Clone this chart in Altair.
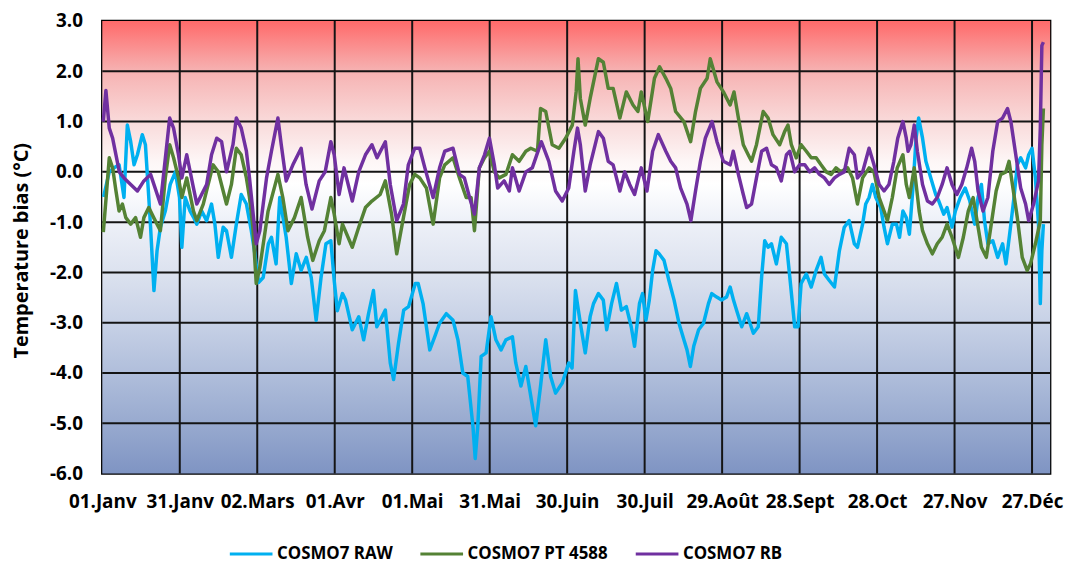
import altair as alt
import pandas as pd

# ---------------- data ----------------
SERIES = ["COSMO7 RAW", "COSMO7 PT 4588", "COSMO7 RB"]
COLORS = ["#00B0F0", "#548235", "#7030A0"]

TICK_DAYS = [0, 30, 60, 90, 120, 150, 180, 210, 240, 270, 300, 330, 360]
TICK_LABELS = ["01.Janv", "31.Janv", "02.Mars", "01.Avr", "01.Mai", "31.Mai", "30.Juin",
               "30.Juil", "29.Août", "28.Sept", "28.Oct", "27.Nov", "27.Déc"]
Y_TICKS = [-6, -5, -4, -3, -2, -1, 0, 1, 2, 3]
X_RANGE = [0, 367]
Y_RANGE = [-6, 3]

raw_day = [0.5, 2.7, 4.6, 6.5, 8.4, 9.7, 11.0, 12.3, 13.6, 15.5, 16.7, 18.0, 18.7, 20.0, 21.2, 22.5,
           24.4, 26.3, 28.3, 29.9, 30.8, 32.1, 34.0, 35.3, 36.6, 38.5, 40.4, 42.3, 43.6, 44.9, 46.8,
           48.1, 50.0, 51.9, 53.8, 55.8, 57.7, 59.0, 60.5, 62.3, 64.3, 65.5, 67.3, 68.7, 71.2, 73.2,
           75.1, 77.0, 79.0, 80.9, 82.8, 84.7, 86.6, 88.5, 89.8, 91.0, 93.0, 94.2, 96.8, 99.3, 101.2,
           103.1, 105.0, 106.3, 107.6, 109.6, 111.5, 112.8, 114.7, 116.7, 118.6, 121.2, 122.3, 124.2,
           126.8, 128.7, 130.6, 133.2, 135.8, 137.7, 139.6, 141.5, 143.5, 144.4, 145.4, 146.7, 148.6,
           150.5, 152.4, 154.4, 156.3, 158.8, 160.1, 162.1, 164.0, 165.9, 167.8, 169.7, 171.7, 173.6,
           175.5, 178.1, 180.6, 181.9, 183.2, 185.1, 187.0, 188.9, 190.2, 192.1, 194.0, 195.3, 197.2,
           199.1, 201.0, 202.9, 204.8, 206.1, 208.0, 209.2, 210.5, 211.8, 213.1, 214.4, 215.6, 217.5,
           219.4, 221.4, 223.3, 225.2, 226.4, 227.7, 229.0, 230.9, 232.8, 234.7, 236.0, 237.9, 239.8,
           241.7, 243.1, 244.4, 245.6, 247.6, 249.5, 250.8, 252.1, 254.0, 255.3, 256.5, 257.8, 259.1,
           261.0, 262.9, 264.9, 266.2, 268.1, 269.4, 270.6, 272.6, 274.5, 276.4, 278.3, 279.6, 281.5,
           283.5, 285.4, 287.3, 289.2, 291.2, 292.4, 294.4, 295.6, 296.9, 298.2, 299.5, 301.4, 302.7,
           304.0, 305.9, 307.5, 308.7, 310.0, 311.3, 312.5, 313.8, 315.1, 316.1, 317.6, 318.9, 320.8,
           322.7, 323.9, 325.8, 327.1, 329.0, 330.3, 332.2, 334.1, 335.9, 337.8, 339.1, 340.4, 341.6,
           342.9, 344.8, 346.7, 348.6, 349.9, 351.8, 353.0, 354.3, 355.6, 357.5, 358.7, 360.0, 361.3,
           362.5, 363.2, 363.8, 364.4]
raw_val = [-0.5, 0.0, 0.08, 0.14, -0.51, 0.93, 0.6, 0.14, 0.34, 0.74, 0.54, -0.51, -1.1, -2.36, -1.57, -1.1,
           -0.78, -0.25, 0.0, -0.51, -1.5, -0.51, -0.78, -0.9, -1.04, -0.78, -0.97, -0.64, -1.04, -1.7, -1.1,
           -1.17, -1.7, -1.04, -0.45, -0.64, -1.17, -1.6, -2.2, -2.1, -1.43, -1.3, -1.83, -0.51, -1.3, -2.22,
           -1.63, -1.96, -1.7, -2.1, -2.95, -2.1, -1.43, -1.37, -2.16, -2.76, -2.42, -2.55, -3.14, -2.88, -3.34,
           -2.82, -2.36, -3.08, -2.95, -2.75, -3.8, -4.13, -3.41, -2.75, -2.68, -2.22, -2.22, -2.62,
           -3.54, -3.28, -3.01, -2.82, -2.95, -3.34, -4.0, -4.07, -5.05, -5.7, -5.05, -3.67, -3.6,
           -2.88, -3.34, -3.54, -3.34, -3.28, -3.8, -4.26, -3.87, -4.46, -5.05, -4.26, -3.34, -4.07,
           -4.4, -4.2, -3.8, -3.9, -2.36, -3.01, -3.6, -2.88, -2.62, -2.42, -2.55, -3.14, -2.62,
           -2.22, -2.75, -2.68, -3.08, -3.47, -2.62, -2.42, -2.95, -2.55, -1.96, -1.57, -1.63, -1.76,
           -2.16, -2.55, -3.01, -3.34, -3.54, -3.87, -3.47, -3.14, -3.01, -2.62, -2.42, -2.49, -2.55,
           -2.49, -2.29, -2.55, -2.75, -3.08, -2.82, -3.01, -3.21, -3.08, -2.09, -1.37, -1.5, -1.43,
           -1.83, -1.3, -1.43, -2.09, -3.08, -3.08, -2.22, -2.03, -2.29, -1.96, -1.7, -2.03, -2.16,
           -2.29, -1.57, -1.1, -0.97, -1.43, -1.5, -1.04, -0.64, -0.51, -0.25, -0.51, -0.71, -1.1,
           -1.43, -1.04, -1.04, -1.3, -0.78, -0.91, -1.24, -0.38, 0.67, 1.07, 0.67, 0.21, -0.12,
           -0.45, -0.58, -0.84, -0.71, -1.1, -0.78, -0.51, -0.32, -0.58, -1.04, -0.51, -0.25, -0.97,
           -1.43, -1.37, -1.7, -1.43, -1.83, -1.04, -0.51, 0.14, 0.28, 0.08, 0.34, 0.47, -0.12,
           -1.04, -2.62, -1.57, -1.04]

pt_day = [0.4, 1.5, 2.7, 4.0, 5.3, 6.5, 7.8, 9.1, 11.0, 12.9, 14.8, 16.1, 18.0, 19.9, 22.5, 24.4, 26.1,
          27.6, 29.5, 30.8, 32.7, 35.3, 36.6, 39.1, 41.0, 42.9, 44.9, 46.8, 48.1, 50.0, 51.9, 53.8, 55.8,
          57.0, 58.3, 59.6, 61.0, 64.2, 68.0, 69.9, 71.9, 74.4, 77.0, 79.5, 81.5, 84.0, 86.0, 88.5, 89.8,
          91.7, 93.0, 96.8, 99.3, 101.9, 104.4, 107.6, 109.6, 112.0, 114.0, 116.6, 119.0, 121.0, 122.9,
          125.5, 128.1, 130.6, 132.6, 135.8, 138.3, 140.9, 142.8, 144.1, 146.0, 148.0, 149.9, 151.8,
          153.7, 156.3, 158.8, 161.4, 164.0, 165.9, 168.5, 169.7, 171.7, 174.2, 176.8, 179.4, 182.0,
          183.5, 184.2, 185.1, 187.0, 188.9, 192.1, 194.0, 195.9, 197.8, 200.4, 202.9, 205.5, 207.4,
          208.7, 211.2, 213.8, 215.8, 218.2, 220.1, 222.0, 225.2, 227.8, 229.7, 231.6, 234.2, 235.4,
          238.0, 240.5, 243.1, 244.6, 246.3, 248.2, 250.1, 251.4, 253.3, 255.9, 257.8, 259.7, 262.3,
          264.2, 265.5, 266.8, 268.7, 270.6, 272.6, 274.5, 276.4, 278.3, 280.3, 282.2, 284.1, 286.0,
          288.6, 290.5, 292.4, 294.4, 296.9, 298.8, 300.8, 302.7, 304.0, 305.9, 307.8, 310.0, 311.3,
          312.5, 314.4, 316.3, 317.6, 319.5, 321.4, 323.3, 325.2, 327.1, 329.0, 331.5, 333.4, 335.3,
          337.2, 338.5, 340.4, 342.3, 344.2, 346.1, 347.9, 349.9, 351.1, 352.4, 354.3, 356.2, 358.1,
          359.4, 361.3, 363.2, 363.8, 364.4]
pt_val = [-1.2, -0.5, 0.28, 0.08, -0.38, -0.78, -0.64, -0.91, -1.04, -0.91, -1.3, -0.91, -0.71, -0.91, -1.17,
          -0.12, 0.54, 0.28, -0.12, -0.51, -0.12, -0.78, -0.97, -0.64, -0.25, 0.14, 0.0, -0.38, -0.64, -0.25,
          0.47, 0.34, -0.12, -0.51, -1.1, -2.22, -1.9, -0.78, -0.05, -0.51, -1.17, -0.91, -0.51, -1.3, -1.76,
          -1.37, -1.17, -0.51, -0.84, -1.43, -1.04, -1.5, -1.1, -0.71, -0.58, -0.45, -0.18, -0.84, -1.63,
          -0.91, -0.25, -0.05, -0.12, -0.32, -1.04, -0.12, 0.14, 0.28, -0.12, -0.51, -0.51, -1.17, 0.08,
          0.28, 0.41, 0.0, -0.12, -0.05, 0.34, 0.21, 0.41, 0.47, 0.41, 1.26, 1.2, 0.54, 0.47, 0.67, 0.93,
          1.6, 2.25, 1.46, 0.93, 1.46, 2.25, 2.18, 1.66, 1.66, 1.07, 1.59, 1.33, 1.2, 1.59, 1.0, 1.86, 2.09,
          1.86, 1.66, 1.2, 1.0, 0.6, 1.2, 1.66, 1.86, 2.25, 1.79, 1.59, 1.33, 1.59, 1.07, 0.54, 0.34,
          0.21, 0.54, 1.2, 1.07, 0.74, 0.54, 0.8, 0.93, 0.54, 0.28, 0.54, 0.41, 0.28, 0.28, 0.14, 0.0,
          -0.05, 0.08, 0.0, 0.08, -0.12, -0.64, -0.12, 0.08, 0.0, -0.51, -0.78, -0.97, -0.51, 0.08, 0.34,
          -0.25, -0.51, 0.08, -0.78, -1.17, -1.43, -1.63, -1.43, -1.3, -1.04, -1.3, -1.7, -1.3, -0.78,
          -0.51, -0.91, -1.5, -1.7, -1.04, -0.38, -0.05, 0.0, 0.21, -0.25, -0.91, -1.7, -1.96, -1.83,
          -1.43, -0.97, 0.54, 1.26]

rb_day = [0.4, 1.4, 2.7, 4.0, 6.6, 8.4, 11.0, 13.6, 16.1, 18.7, 22.5, 26.1, 27.6, 29.5, 30.8, 32.7, 35.3,
          36.6, 40.4, 42.3, 44.3, 46.2, 48.1, 50.6, 51.9, 53.8, 55.8, 57.0, 58.3, 59.6, 61.0, 63.6, 65.5,
          68.0, 69.3, 71.2, 73.8, 77.0, 78.9, 81.2, 84.0, 86.3, 88.5, 89.8, 91.7, 93.6, 96.8, 99.3, 101.9,
          104.4, 106.4, 109.6, 111.5, 114.0, 116.6, 118.5, 121.0, 122.9, 124.9, 128.1, 130.6, 132.6,
          135.8, 138.3, 140.2, 142.2, 144.1, 146.0, 148.0, 149.9, 151.8, 153.1, 155.6, 157.6, 158.8,
          161.4, 164.0, 166.5, 170.0, 172.9, 175.5, 178.1, 180.6, 182.6, 184.0, 185.1, 187.0, 188.9,
          192.1, 194.0, 195.9, 197.8, 200.4, 202.3, 204.2, 206.1, 208.7, 210.9, 213.1, 215.3, 218.2,
          220.1, 222.0, 223.9, 226.4, 227.9, 229.7, 231.6, 233.5, 236.1, 238.0, 240.5, 243.1, 244.3,
          246.3, 248.2, 249.5, 251.4, 253.3, 255.3, 257.2, 259.1, 261.0, 262.9, 264.9, 266.2, 268.1,
          270.0, 272.0, 273.9, 275.8, 277.7, 279.6, 281.5, 283.5, 285.4, 287.3, 289.2, 291.2, 292.4,
          294.4, 296.9, 298.8, 300.8, 302.7, 304.6, 306.5, 308.0, 310.0, 311.3, 312.0, 313.1, 314.4,
          315.6, 317.6, 319.5, 321.4, 323.3, 325.2, 327.1, 329.0, 330.9, 332.8, 334.7, 336.6, 337.8,
          339.1, 341.0, 342.9, 344.8, 346.7, 348.6, 350.5, 351.8, 353.7, 355.6, 357.5, 358.7, 360.6,
          362.5, 363.2, 363.8, 364.4]
rb_val = [1.0, 1.62, 0.87, 0.67, 0.0, -0.12, -0.25, -0.38, -0.18, -0.05, -0.64, 1.07, 0.87, 0.34, -0.12, 0.34,
          -0.32, -0.64, -0.25, 0.34, 0.67, 0.6, 0.0, 0.54, 1.07, 0.87, 0.41, -0.12, -0.78, -1.43, -1.17, -0.12,
          0.41, 1.07, 0.54, -0.18, 0.14, 0.47, -0.25, -0.74, -0.18, 0.0, 0.6, 0.34, -0.45, 0.08, -0.58, 0.0,
          0.34, 0.54, 0.28, 0.6, -0.25, -0.97, -0.64, 0.14, 0.47, 0.47, 0.08, -0.51, 0.08, 0.41, 0.47, -0.05,
          -0.12, -0.51, -0.84, 0.08, 0.34, 0.67, 0.14, -0.32, -0.18, -0.38, 0.08, -0.38, 0.0, 0.08, 0.6,
          0.21, -0.38, -0.58, -0.32, 0.41, 0.87, 0.54, -0.38, 0.14, 0.8, 0.67, 0.21, 0.14, -0.38, 0.0,
          -0.25, -0.45, 0.08, -0.38, 0.41, 0.74, 0.41, 0.21, 0.08, -0.32, -0.64, -0.97, -0.38, 0.21, 0.67,
          1.0, 0.6, 0.21, 0.14, 0.41, -0.05, -0.45, -0.71, -0.64, -0.12, 0.41, 0.47, 0.14, 0.08, -0.18,
          0.34, 0.41, 0.0, 0.14, 0.14, 0.0, 0.08, -0.05, -0.12, -0.25, -0.12, -0.05, 0.0, 0.47, 0.34,
          -0.12, 0.0, 0.47, 0.14, -0.25, -0.38, -0.25, 0.21, 0.67, 1.0, 0.67, 0.41, 0.54, 0.93, 0.41,
          -0.25, -0.58, -0.64, -0.51, -0.25, 0.08, -0.25, -0.45, -0.25, 0.08, 0.47, 0.21, -0.38, -0.78,
          -0.51, 0.41, 1.0, 1.07, 1.26, 1.0, 0.34, -0.32, -0.64, -0.97, -0.64, -0.18, 0.87, 2.51, 2.58]

# ---------------- tables ----------------
rows = []
for name, days, vals in zip(SERIES, [raw_day, pt_day, rb_day], [raw_val, pt_val, rb_val]):
    for i, (d, v) in enumerate(zip(days, vals)):
        rows.append({"day": d, "bias": v, "series": name, "order": i})
lines_df = pd.DataFrame(rows)

bg_df = pd.DataFrame({"x0": [X_RANGE[0]], "x1": [X_RANGE[1]], "y0": [Y_RANGE[1]], "y1": [Y_RANGE[0]]})
vgrid_df = pd.DataFrame({"day": TICK_DAYS[1:]})
hgrid_df = pd.DataFrame({"bias": Y_TICKS[1:-1]})

FONT = "Open Sans"
xscale = alt.Scale(domain=X_RANGE, nice=False, zero=False)
yscale = alt.Scale(domain=Y_RANGE, nice=False, zero=False)

label_js = "[" + ",".join("'" + l + "'" for l in TICK_LABELS) + "][round(datum.value/30)]"

x_axis = alt.Axis(values=TICK_DAYS, labelExpr=label_js, title=None, grid=False, ticks=False,
                  domain=False, labelFont=FONT, labelFontWeight="bold", labelFontSize=19,
                  labelColor="#000000", labelPadding=19, labelAngle=0, labelFlush=False,
                  labelOverlap=False)
y_axis = alt.Axis(values=Y_TICKS, labelExpr="(datum.value < 0 ? '-' : '') + format(abs(datum.value), '.1f')",
                  title="Temperature bias (°C)", grid=False, ticks=False, domain=False,
                  labelFont=FONT, labelFontWeight="bold", labelFontSize=19, labelColor="#000000",
                  labelPadding=20, labelFlush=False, labelOverlap=False,
                  titleFont=FONT, titleFontWeight="bold", titleFontSize=20, titleColor="#000000",
                  titleAngle=270, titleX=-81, titleY=231, titleAlign="center", titleBaseline="middle")

gradient = alt.Gradient(
    gradient="linear", x1=0, x2=0, y1=0, y2=1,
    stops=[
        alt.GradientStop(color="#FF6A6A", offset=0.0),
        alt.GradientStop(color="#F6B2B2", offset=0.11),
        alt.GradientStop(color="#F9D9D9", offset=0.22),
        alt.GradientStop(color="#FDF6F6", offset=0.31),
        alt.GradientStop(color="#FFFFFF", offset=0.36),
        alt.GradientStop(color="#EEF1F8", offset=0.44),
        alt.GradientStop(color="#DCE2EF", offset=0.556),
        alt.GradientStop(color="#C7D1E6", offset=0.667),
        alt.GradientStop(color="#B0BEDB", offset=0.778),
        alt.GradientStop(color="#98AACF", offset=0.889),
        alt.GradientStop(color="#7F94C3", offset=1.0),
    ])

bg = alt.Chart(bg_df).mark_rect(color=gradient).encode(
    x=alt.X("x0:Q", scale=xscale, axis=x_axis), x2="x1:Q",
    y=alt.Y("y0:Q", scale=yscale, axis=y_axis), y2="y1:Q")

vgrid = alt.Chart(vgrid_df).mark_rule(color="#141414", strokeWidth=2).encode(
    x=alt.X("day:Q", scale=xscale))
hgrid = alt.Chart(hgrid_df).mark_rule(color="#141414", strokeWidth=2).encode(
    y=alt.Y("bias:Q", scale=yscale))

lines = alt.Chart(lines_df).mark_line(strokeWidth=3.5, strokeJoin="round").encode(
    x=alt.X("day:Q", scale=xscale),
    y=alt.Y("bias:Q", scale=yscale),
    order="order:Q",
    color=alt.Color("series:N", scale=alt.Scale(domain=SERIES, range=COLORS),
                    legend=alt.Legend(title=None, orient="none", direction="horizontal",
                                      legendX=127, legendY=514, symbolType="stroke",
                                      symbolStrokeWidth=3, symbolSize=1849, labelOffset=3,
                                      columnPadding=21, labelFont=FONT, labelFontWeight="bold",
                                      labelFontSize=17, labelColor="#000000", columns=3)),
)

chart = alt.layer(bg, vgrid, hgrid, lines).resolve_scale(x="shared", y="shared").properties(
    width=955, height=456,
    autosize=alt.AutoSizeParams(type="none"),
    padding={"left": 95, "top": 11, "right": 16, "bottom": 89},
).configure_view(stroke="#000000", strokeWidth=2.5)

chart.save("out.html", embed_options={"renderer": "svg", "actions": False})
